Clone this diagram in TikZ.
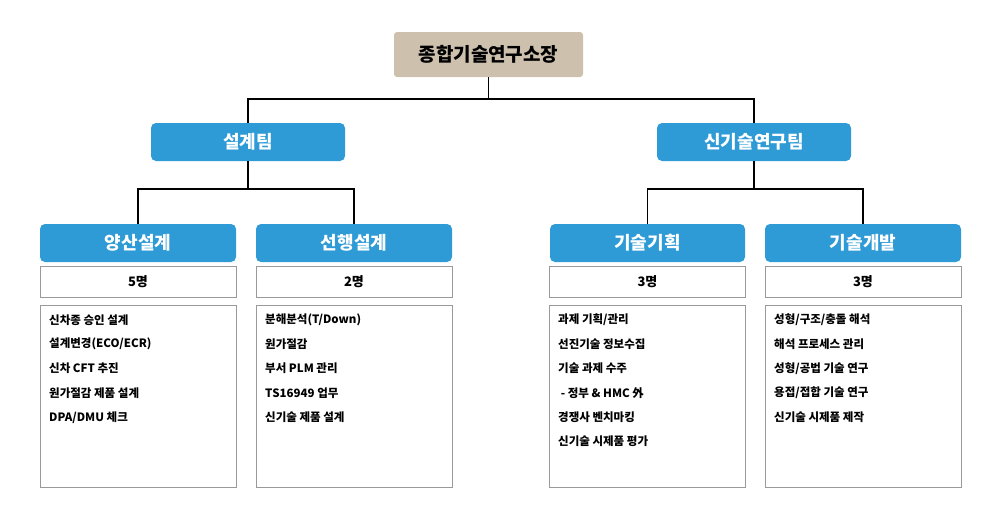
\documentclass[tikz,border=0pt]{standalone}
\usepackage{fontspec}
\setmainfont{Noto Sans CJK KR}
\begin{document}
\begin{tikzpicture}[x=1pt,y=-1pt,
  top/.style={fill=topc,rounded corners=3pt,minimum width=189pt,minimum height=45pt,font=\bfseries\fontsize{19}{22}\selectfont,inner sep=0pt},
  team/.style={fill=bluec,text=white,rounded corners=5pt,minimum width=194pt,minimum height=38pt,font=\bfseries\fontsize{18}{21}\selectfont,inner sep=0pt},
  cnt/.style={draw=grayc,minimum width=196pt,minimum height=31pt,font=\bfseries\fontsize{13}{15}\selectfont,inner sep=0pt},
  det/.style={draw=grayc,minimum width=196pt,minimum height=182pt,inner sep=0pt},
  itm/.style={anchor=west,font=\bfseries\fontsize{11.5}{13}\selectfont,inner sep=0pt},
  ln/.style={line width=1.6pt}]
\definecolor{topc}{HTML}{CDC1AE}
\definecolor{bluec}{HTML}{2E9BD6}
\definecolor{grayc}{HTML}{9A9A9A}
\useasboundingbox (0,0) rectangle (1000,520);
\node[top] (t) at (488.5,54.5) {종합기술연구소장};
\node[team] (a) at (248,142) {설계팀};
\node[team] (b) at (754,142) {신기술연구팀};
\node[team,minimum width=196pt] (a1) at (138,243) {양산설계};
\node[team,minimum width=196pt] (a2) at (354,243) {선행설계};
\node[team,minimum width=195pt] (b1) at (647.5,243) {기술기획};
\node[team,minimum width=196pt] (b2) at (863,243) {기술개발};
\coordinate (j0) at (488.5,99);
\coordinate (ja) at (248,189);
\coordinate (jb) at (754,189);
\draw[ln] (t.south) -- (j0);
\draw[ln] (a.north) |- (j0) -| (b.north);
\draw[ln] (a.south) -- (ja);
\draw[ln] (a1.north) |- (ja) -| (a2.north);
\draw[ln] (b.south) -- (jb);
\draw[ln] (b1.north) |- (jb) -| (b2.north);
\foreach \n/\x/\c in {a1/138/5명,a2/354/2명,b1/647.5/3명,b2/863/3명}{
  \node[cnt] (\n c) at (\x,281.5) {\c};
  \node[det] (\n d) at (\x,396) {};
}
\foreach \n/\x/\items in {a1/49/{신차종 승인 설계,설계변경(ECO/ECR),신차 CFT 추진,원가절감 제품 설계,DPA/DMU 체크},
  a2/265/{분해분석(T/Down),원가절감,부서 PLM 관리,TS16949 업무,신기술 제품 설계},
  b1/558/{과제 기획/관리,선진기술 정보수집,기술 과제 수주,\ - 정부 \& HMC 外,경쟁사 벤치마킹,신기술 시제품 평가},
  b2/774/{성형/구조/충돌 해석,해석 프로세스 관리,성형/공법 기술 연구,용접/접합 기술 연구,신기술 시제품 제작}}{
  \foreach \s [count=\i] in \items {
    \node[itm] (\n i\i) at (\x,{320+24.3*(\i-1)}) {\s};
  }
}
\end{tikzpicture}
\end{document}
